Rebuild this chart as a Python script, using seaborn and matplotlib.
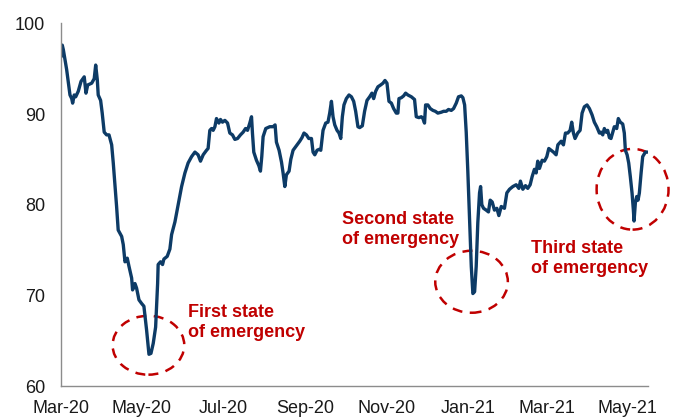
import matplotlib
matplotlib.use("Agg")
import matplotlib.pyplot as plt
import matplotlib.dates as mdates
from matplotlib.patches import Ellipse
import seaborn as sns
import pandas as pd

# days since 2020-03-01
day_offset = [0.4, 1.3, 2.1, 4.6, 7.1, 8.4, 9.1, 10.3, 11.4, 13.3, 15.4, 17.8, 19.1, 20.4, 23.4, 25.3, 26.4, 27.6, 28.3,
              30.1, 31.3, 32.8, 34.6, 36.4, 38.4, 39.6, 42.1, 43.3, 45.9, 47.1, 48.4, 50.1, 51.4, 53.4, 54.1, 55.9,
              57.1, 58.9, 60.9, 62.6, 64.6, 66.4, 67.9, 69.6, 71.4, 72.1, 72.9, 73.3, 75.1, 76.6, 77.6, 80.1, 82.1,
              83.4, 85.9, 88.3, 90.9, 93.4, 95.8, 98.4, 100.9, 103.3, 105.1, 107.1, 109.6, 110.8, 112.1, 113.4,
              114.6, 115.9, 117.1, 118.9, 120.1, 121.6, 123.4, 125.4, 127.1, 129.1, 130.9, 132.9, 135.1, 137.1,
              138.9, 140.4, 142.1, 143.4, 144.1, 145.1, 147.1, 148.9, 150.1, 151.1, 152.1, 154.1, 157.1, 159.6,
              161.1, 162.1, 164.1, 165.9, 167.1, 168.4, 169.6, 171.6, 172.9, 174.6, 177.1, 179.6, 181.3, 182.8,
              184.6, 186.4, 188.4, 189.6, 190.9, 192.6, 194.1, 195.4, 197.1, 199.1, 200.8, 202.1, 203.4, 204.6,
              205.9, 207.6, 209.1, 210.4, 211.6, 212.8, 214.6, 216.6, 218.4, 220.1, 221.6, 223.3, 224.6, 226.6,
              228.3, 230.1, 232.1, 233.8, 235.1, 236.6, 238.3, 240.3, 242.1, 243.6, 245.1, 246.6, 248.4, 250.1,
              252.1, 253.3, 254.1, 255.9, 257.6, 259.1, 260.8, 263.4, 265.8, 267.1, 269.1, 270.9, 272.1, 273.3,
              274.1, 275.8, 277.6, 279.6, 281.4, 283.3, 285.9, 287.6, 289.6, 291.3, 293.4, 295.1, 297.1, 298.8,
              300.9, 302.1, 303.4, 304.6, 305.8, 307.1, 308.4, 309.6, 310.9, 312.1, 313.3, 314.6, 315.4, 316.3,
              317.6, 319.6, 321.3, 322.6, 324.1, 325.8, 327.6, 329.1, 330.9, 333.3, 335.1, 337.1, 339.6, 342.1,
              344.1, 345.3, 347.1, 349.1, 350.8, 352.6, 354.1, 355.8, 357.1, 358.3, 359.6, 361.6, 363.3, 365.1,
              366.6, 368.4, 370.1, 372.1, 373.4, 375.9, 377.6, 379.1, 380.8, 382.6, 383.8, 385.1, 386.3, 388.3,
              390.1, 391.6, 393.3, 395.3, 397.1, 399.1, 400.8, 402.6, 404.6, 405.8, 407.1, 408.3, 409.6, 410.8,
              412.1, 413.3, 414.6, 415.8, 417.6, 418.8, 420.3, 422.1, 423.3, 424.1, 425.4, 426.6, 427.8, 429.1,
              430.1, 430.6, 431.6, 432.6, 433.6, 434.6, 435.9, 437.1, 439.1, 440.8]
index_values = [96.3, 97.6, 97.1, 94.9, 92.1, 91.7, 91.2, 92.1, 91.9, 92.5, 93.6, 94.1, 92.3, 93.2, 93.4, 93.9, 95.4, 93.8, 92.1,
                91.5, 90.1, 88.0, 87.7, 87.7, 86.6, 84.6, 79.8, 77.2, 76.5, 75.6, 73.7, 74.1, 73.2, 71.9, 70.6, 71.3,
                70.8, 69.5, 69.1, 68.8, 66.2, 63.5, 63.6, 64.7, 66.5, 68.8, 71.3, 73.4, 73.7, 73.4, 74.0, 74.3, 75.1,
                76.7, 78.1, 80.0, 82.0, 83.5, 84.6, 85.3, 85.8, 85.5, 84.8, 85.5, 86.0, 86.2, 88.2, 88.4,
                88.2, 88.6, 89.5, 89.0, 89.4, 89.1, 89.3, 89.0, 87.9, 87.7, 87.2, 87.3, 87.7, 88.0,
                88.4, 88.2, 89.0, 89.7, 87.9, 85.8, 84.9, 84.3, 83.7, 85.3, 87.5, 88.4, 88.6, 88.6,
                88.8, 86.9, 86.0, 84.7, 83.5, 82.0, 83.3, 83.7, 85.0, 86.0, 86.5, 87.0, 87.4, 87.9,
                87.7, 87.3, 87.3, 85.8, 85.5, 86.0, 86.1, 86.0, 88.2, 89.0, 89.1, 90.1, 91.4, 89.7,
                88.8, 88.2, 87.9, 87.3, 89.7, 91.0, 91.7, 92.1, 91.9, 91.4, 90.3, 88.6, 88.5, 88.7,
                90.3, 91.5, 91.9, 92.3, 91.7, 92.5, 93.0, 93.2, 93.4, 93.7, 93.4, 91.4, 91.2, 90.6,
                90.1, 90.1, 91.7, 91.8, 92.0, 92.3, 92.1, 91.9, 91.6, 89.7, 89.6, 89.7, 89.5, 89.0,
                91.0, 91.0, 90.6, 90.4, 90.3, 90.1, 90.2, 90.3, 90.3, 90.5, 90.4, 90.6, 91.2, 91.9,
                92.0, 91.8, 91.0, 88.0, 83.7, 78.3, 73.2, 70.2, 70.4, 73.2, 78.0, 81.3, 82.0, 80.0,
                79.6, 79.4, 79.2, 80.5, 80.3, 79.4, 79.6, 78.8, 79.8, 79.6, 81.3, 81.7, 82.0, 82.2,
                81.8, 82.6, 81.7, 82.1, 81.8, 82.2, 83.1, 83.9, 83.5, 84.8, 84.0, 84.9, 84.8, 85.3,
                86.2, 86.0, 85.8, 85.5, 86.6, 87.0, 86.6, 87.9, 87.9, 88.2, 89.1, 87.9, 87.3, 87.9,
                88.2, 90.1, 90.8, 91.0, 90.6, 89.9, 89.1, 88.6, 87.9, 88.0, 87.7, 88.4, 88.0, 88.2,
                87.4, 87.3, 88.0, 88.6, 88.4, 89.5, 89.1, 88.9, 87.9, 86.0, 85.5, 84.6, 83.1, 81.3,
                79.4, 78.2, 80.2, 80.9, 80.5, 81.3, 83.5, 85.3, 85.8, 85.8]

tick_dates = ["2020-03-01", "2020-05-01", "2020-07-01", "2020-09-01", "2020-11-01", "2021-01-01", "2021-03-01", "2021-05-01"]
y_ticks = [60, 70, 80, 90, 100]

# annotations: label, text anchor (day, value), ellipse centre (day, value), ellipse size (days, points)
labels = ["First state\nof emergency", "Second state\nof emergency", "Third state\nof emergency"]
label_pos = [(95.6, 67.0), (211.1, 77.3), (353.6, 74.1)]
circle_pos = [(66.0, 64.5), (308.6, 71.5), (429.5, 81.7)]
circle_size = [(53.8, 6.5), (54.5, 6.84), (54.0, 8.9)]

start = pd.Timestamp("2020-03-01")
df = pd.DataFrame({"date": start + pd.to_timedelta(day_offset, unit="D"), "value": index_values})

sns.set_style("white")
plt.rcParams["font.family"] = ["Liberation Sans", "DejaVu Sans"]

navy = "#0D3B66"
red = "#C00000"
grey = "#8C8C8C"

fig, ax = plt.subplots(figsize=(6.77, 4.17), dpi=100)
fig.subplots_adjust(left=0.0894, right=0.957, top=0.944, bottom=0.0743)

sns.lineplot(data=df, x="date", y="value", ax=ax, color=navy, linewidth=2.4)

ax.set_xlim(start, start + pd.Timedelta(days=441))
ax.set_ylim(60, 100)
ax.set_yticks(y_ticks)
ax.set_xticks(pd.to_datetime(tick_dates))
ax.xaxis.set_major_formatter(mdates.DateFormatter("%b-%y"))
ax.set_xlabel("")
ax.set_ylabel("")

for s in ["top", "right"]:
    ax.spines[s].set_visible(False)
for s in ["left", "bottom"]:
    ax.spines[s].set_color(grey)
    ax.spines[s].set_linewidth(1.0)
ax.tick_params(axis="both", direction="out", length=4, width=1.0, color=grey, labelsize=13, labelcolor="#1a1a1a")
ax.tick_params(axis="x", pad=6)
ax.tick_params(axis="y", pad=7)

# dashed circles + labels
for (cx, cy), (w, h) in zip(circle_pos, circle_size):
    e = Ellipse((mdates.date2num(start + pd.Timedelta(days=cx)), cy), width=w, height=h,
                fill=False, edgecolor=red, linewidth=1.8, linestyle=(0, (4, 3)), clip_on=False)
    ax.add_patch(e)

for txt, (tx, ty) in zip(labels, label_pos):
    ax.text(start + pd.Timedelta(days=tx), ty, txt, color=red, fontsize=13, fontweight="bold",
            ha="left", va="center", linespacing=1.25)

fig.savefig("out.png", dpi=100)
